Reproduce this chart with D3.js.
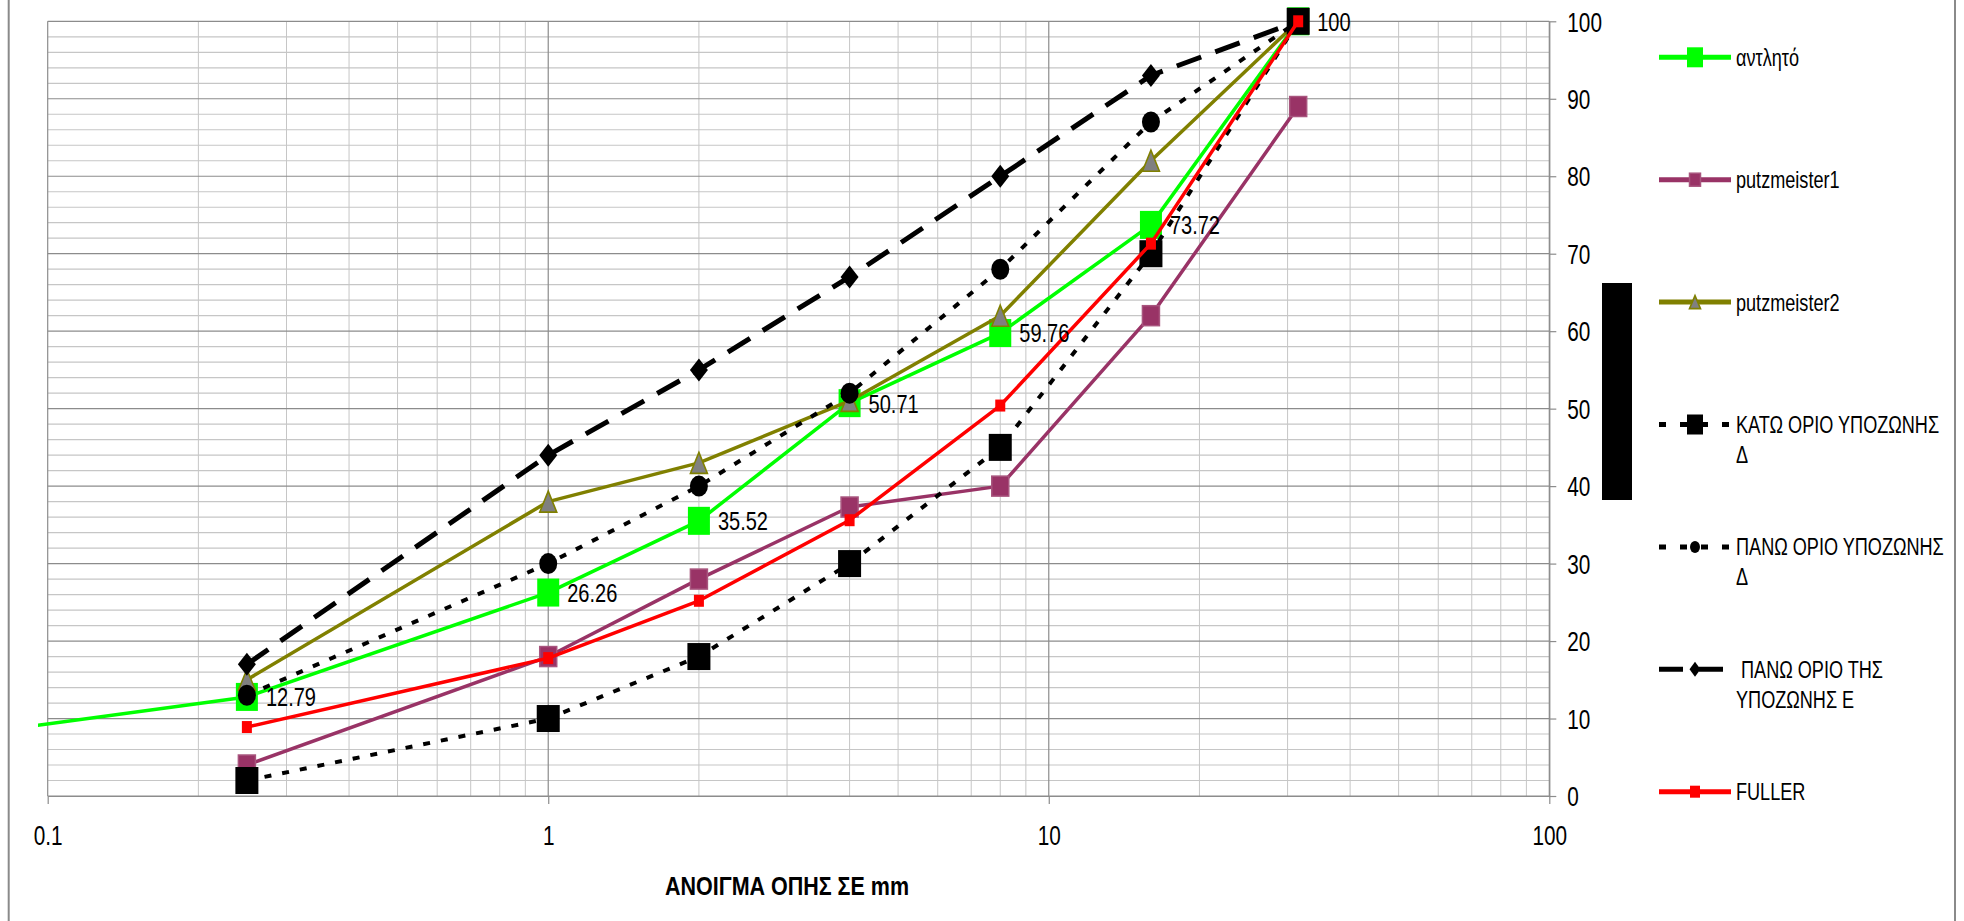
<!DOCTYPE html>
<html>
<head>
<meta charset="utf-8">
<script src="https://cdn.jsdelivr.net/npm/d3@7/dist/d3.min.js"></script>
<style>
  html, body { margin: 0; padding: 0; background: #fff; }
  svg { display: block; font-family: "Liberation Sans", Arial, sans-serif; }
</style>
</head>
<body>
<svg id="chart" width="1964" height="921"></svg>
<script>
// Sieve openings (mm) and percentage passing for each grading curve
const sieveSizes = [0.25, 1, 2, 4, 8, 16, 31.5];
const antlitoSizes = [0.075, 0.25, 1, 2, 4, 8, 16, 31.5];
const antlitoValues = [8.2, 12.79, 26.26, 35.52, 50.71, 59.76, 73.72, 100];
const putzmeister1Values = [4, 18, 28, 37.3, 40, 62, 89];
const putzmeister2Values = [15, 38, 43, 51, 62, 82, 100];
const katoDeltaValues = [2, 10, 18, 30, 45, 70, 100];
const panoDeltaValues = [13, 30, 40, 52, 68, 87, 100];
const panoEValues = [17, 44, 55, 67, 80, 93, 100];
const fullerValues = [8.9, 17.8, 25.2, 35.6, 50.4, 71.3, 100];

const xTickValues = [0.1, 1, 10, 100];
const yTickValues = [0, 10, 20, 30, 40, 50, 60, 70, 80, 90, 100];
const xTitle = "ΑΝΟΙΓΜΑ ΟΠΗΣ ΣΕ mm";

const svg = d3.select("#chart");
const SX = 0.77; // horizontal condensing of all text

const x = d3.scaleLog().domain([0.1, 100]).range([47.7, 1549.3]);
const y = d3.scaleLinear().domain([0, 100]).range([796, 21.3]);

// outer frame sides
svg.append("line").attr("x1", 8.7).attr("x2", 8.7).attr("y1", 0).attr("y2", 921)
  .attr("stroke", "#8a8a8a").attr("stroke-width", 2);
svg.append("line").attr("x1", 1955).attr("x2", 1955).attr("y1", 0).attr("y2", 921)
  .attr("stroke", "#8a8a8a").attr("stroke-width", 2);

// ---- grid ----
const grid = svg.append("g");
const minorX = [];
[0.1, 1, 10].forEach(dec => { for (let k = 2; k <= 9; k++) minorX.push(dec * k); });
const minorY = d3.range(0, 101, 2).filter(v => v % 10 !== 0);

grid.selectAll(".mx").data(minorX).join("line")
  .attr("x1", d => x(d)).attr("x2", d => x(d)).attr("y1", y(100)).attr("y2", y(0))
  .attr("stroke", "#c6c6c6").attr("stroke-width", 1);
grid.selectAll(".my").data(minorY).join("line")
  .attr("x1", x(0.1)).attr("x2", x(100)).attr("y1", d => y(d)).attr("y2", d => y(d))
  .attr("stroke", "#c6c6c6").attr("stroke-width", 1.2);
grid.selectAll(".Mx").data(xTickValues).join("line")
  .attr("x1", d => x(d)).attr("x2", d => x(d)).attr("y1", y(100)).attr("y2", y(0))
  .attr("stroke", "#8c8c8c").attr("stroke-width", 1.2);
grid.selectAll(".My").data(yTickValues).join("line")
  .attr("x1", x(0.1)).attr("x2", x(100)).attr("y1", d => y(d)).attr("y2", d => y(d))
  .attr("stroke", "#8c8c8c").attr("stroke-width", 1.2);

// ---- axes ----
const xAxis = svg.append("g").attr("transform", `translate(0,${y(0)})`)
  .call(d3.axisBottom(x).tickValues(xTickValues).tickSize(8).tickSizeOuter(0)
    .tickFormat(d => String(d)));
xAxis.select(".domain").attr("stroke", "#8c8c8c").attr("stroke-width", 1.2);
xAxis.selectAll(".tick line").attr("stroke", "#8c8c8c").attr("stroke-width", 1.2);
xAxis.selectAll(".tick text").attr("y", 0).attr("dy", 0)
  .attr("transform", `translate(0,49) scale(${SX},1)`)
  .attr("font-size", 27).attr("fill", "#000").attr("font-family", "Liberation Sans, Arial, sans-serif");

const yAxis = svg.append("g").attr("transform", `translate(${x(100)},0)`)
  .call(d3.axisRight(y).tickValues(yTickValues).tickSize(7).tickSizeOuter(0));
yAxis.select(".domain").attr("stroke", "#8c8c8c").attr("stroke-width", 1.2);
yAxis.selectAll(".tick line").attr("stroke", "#8c8c8c").attr("stroke-width", 1.2);
yAxis.selectAll(".tick text").attr("x", 0).attr("dy", "0.36em")
  .attr("transform", `translate(18,0) scale(${SX},1)`)
  .attr("text-anchor", "start")
  .attr("font-size", 27).attr("fill", "#000").attr("font-family", "Liberation Sans, Arial, sans-serif");

svg.append("text").text(xTitle)
  .attr("transform", `translate(787,895) scale(0.86,1)`)
  .attr("text-anchor", "middle").attr("font-weight", "bold").attr("font-size", 25);

// ---- marker shapes ----
function markerPath(type, w, h) {
  if (type === "diamond") return `M0,${-h/2}L${w/2},0L0,${h/2}L${-w/2},0Z`;
  if (type === "triangle") return `M0,${-h/2}L${w/2},${h/2}L${-w/2},${h/2}Z`;
  return null;
}
function addMarker(g, s, w, h) {
  if (s.marker === "square") {
    g.append("rect").attr("x", -w/2).attr("y", -h/2).attr("width", w).attr("height", h)
      .attr("fill", s.mfill).attr("stroke", s.mstroke).attr("stroke-width", s.msw);
  } else if (s.marker === "circle") {
    g.append("ellipse").attr("rx", w/2).attr("ry", h/2)
      .attr("fill", s.mfill).attr("stroke", s.mstroke).attr("stroke-width", s.msw);
  } else {
    g.append("path").attr("d", markerPath(s.marker, w, h))
      .attr("fill", s.mfill).attr("stroke", s.mstroke).attr("stroke-width", s.msw);
  }
}

const series = [
  { name: "αντλητό", xs: antlitoSizes, ys: antlitoValues, color: "#00ff00", width: 3.5, dash: null,
    marker: "square", mfill: "#00ff00", mstroke: "#00ff00", msw: 0, mw: 22, mh: 28, lw: 16, lh: 20, labels: true },
  { name: "putzmeister1", xs: sieveSizes, ys: putzmeister1Values, color: "#993366", width: 3.5, dash: null,
    marker: "square", mfill: "#993366", mstroke: "#a8557e", msw: 1.5, mw: 17, mh: 20, lw: 11, lh: 13 },
  { name: "putzmeister2", xs: sieveSizes, ys: putzmeister2Values, color: "#808000", width: 3.5, dash: null,
    marker: "triangle", mfill: "#808080", mstroke: "#808000", msw: 1.6, mw: 17, mh: 21, lw: 11, lh: 13 },
  { name: ["ΚΑΤΩ ΟΡΙΟ ΥΠΟΖΩΝΗΣ", "Δ"], xs: sieveSizes, ys: katoDeltaValues, color: "#000", width: 4, dash: "7,11",
    legendDash: "7,14", marker: "square", mfill: "#000", mstroke: "#000", msw: 0, mw: 23, mh: 27, lw: 16, lh: 20 },
  { name: ["ΠΑΝΩ ΟΡΙΟ ΥΠΟΖΩΝΗΣ", "Δ"], xs: sieveSizes, ys: panoDeltaValues, color: "#000", width: 4, dash: "7,11",
    legendDash: "7,14", marker: "circle", mfill: "#000", mstroke: "#000", msw: 0, mw: 18, mh: 21, lw: 10, lh: 12 },
  { name: [" ΠΑΝΩ ΟΡΙΟ ΤΗΣ", "ΥΠΟΖΩΝΗΣ Ε"], xs: sieveSizes, ys: panoEValues, color: "#000", width: 5, dash: "26,15",
    legendDash: "24,16", legendEnd: 1723, marker: "diamond", mfill: "#000", mstroke: "#000", msw: 0, mw: 18, mh: 23, lw: 11, lh: 15 },
  { name: "FULLER", xs: sieveSizes, ys: fullerValues, color: "#ff0000", width: 3.5, dash: null,
    marker: "square", mfill: "#ff0000", mstroke: "#ff0000", msw: 0, mw: 10, mh: 12, lw: 10, lh: 12 }
];

// ---- plotted curves ----
svg.append("defs").append("clipPath").attr("id", "plotClip")
  .append("rect").attr("x", 38).attr("y", 0).attr("width", 1600).attr("height", 921);

const plot = svg.append("g").attr("clip-path", "url(#plotClip)");
const line = d3.line().x(d => x(d[0])).y(d => y(d[1]));

series.forEach(s => {
  const pts = s.xs.map((v, i) => [v, s.ys[i]]);
  const g = plot.append("g");
  g.append("path").attr("d", line(pts)).attr("fill", "none")
    .attr("stroke", s.color).attr("stroke-width", s.width)
    .attr("stroke-dasharray", s.dash).attr("stroke-linejoin", "round");
  pts.forEach(p => {
    const mg = g.append("g").attr("transform", `translate(${x(p[0])},${y(p[1])})`);
    addMarker(mg, s, s.mw, s.mh);
  });
});

// value labels of the pumped mix
const lab = svg.append("g");
const labelled = antlitoSizes.map((v, i) => [v, antlitoValues[i]]).filter(p => p[0] >= 0.1);
lab.selectAll("text").data(labelled).join("text")
  .attr("transform", d => `translate(${x(d[0]) + 19},${y(d[1])}) scale(${SX},1)`)
  .attr("dy", "0.36em").attr("font-size", 26)
  .text(d => String(d[1]));

// dark bar beside the value axis
svg.append("rect").attr("x", 1602).attr("y", 283).attr("width", 30).attr("height", 217).attr("fill", "#000");

// ---- legend ----
const legendY = d3.scaleLinear().domain([0, 6]).range([57.3, 791.7]);
const legend = svg.append("g");
series.forEach((s, i) => {
  const cy = legendY(i);
  const g = legend.append("g");
  g.append("line").attr("x1", 1659).attr("x2", s.legendEnd || 1731).attr("y1", cy).attr("y2", cy)
    .attr("stroke", s.color).attr("stroke-width", s.dash ? 5 : 5)
    .attr("stroke-dasharray", s.legendDash || null);
  const mg = g.append("g").attr("transform", `translate(1695,${cy})`);
  addMarker(mg, s, s.lw, s.lh);
  const lines = Array.isArray(s.name) ? s.name : [s.name];
  lines.forEach((t, k) => {
    g.append("text").attr("transform", `translate(1736,${cy + k * 30}) scale(${SX},1)`)
      .attr("dy", "0.36em").attr("font-size", 23.5).attr("xml:space", "preserve")
      .style("white-space", "pre").text(t);
  });
});
</script>
</body>
</html>
